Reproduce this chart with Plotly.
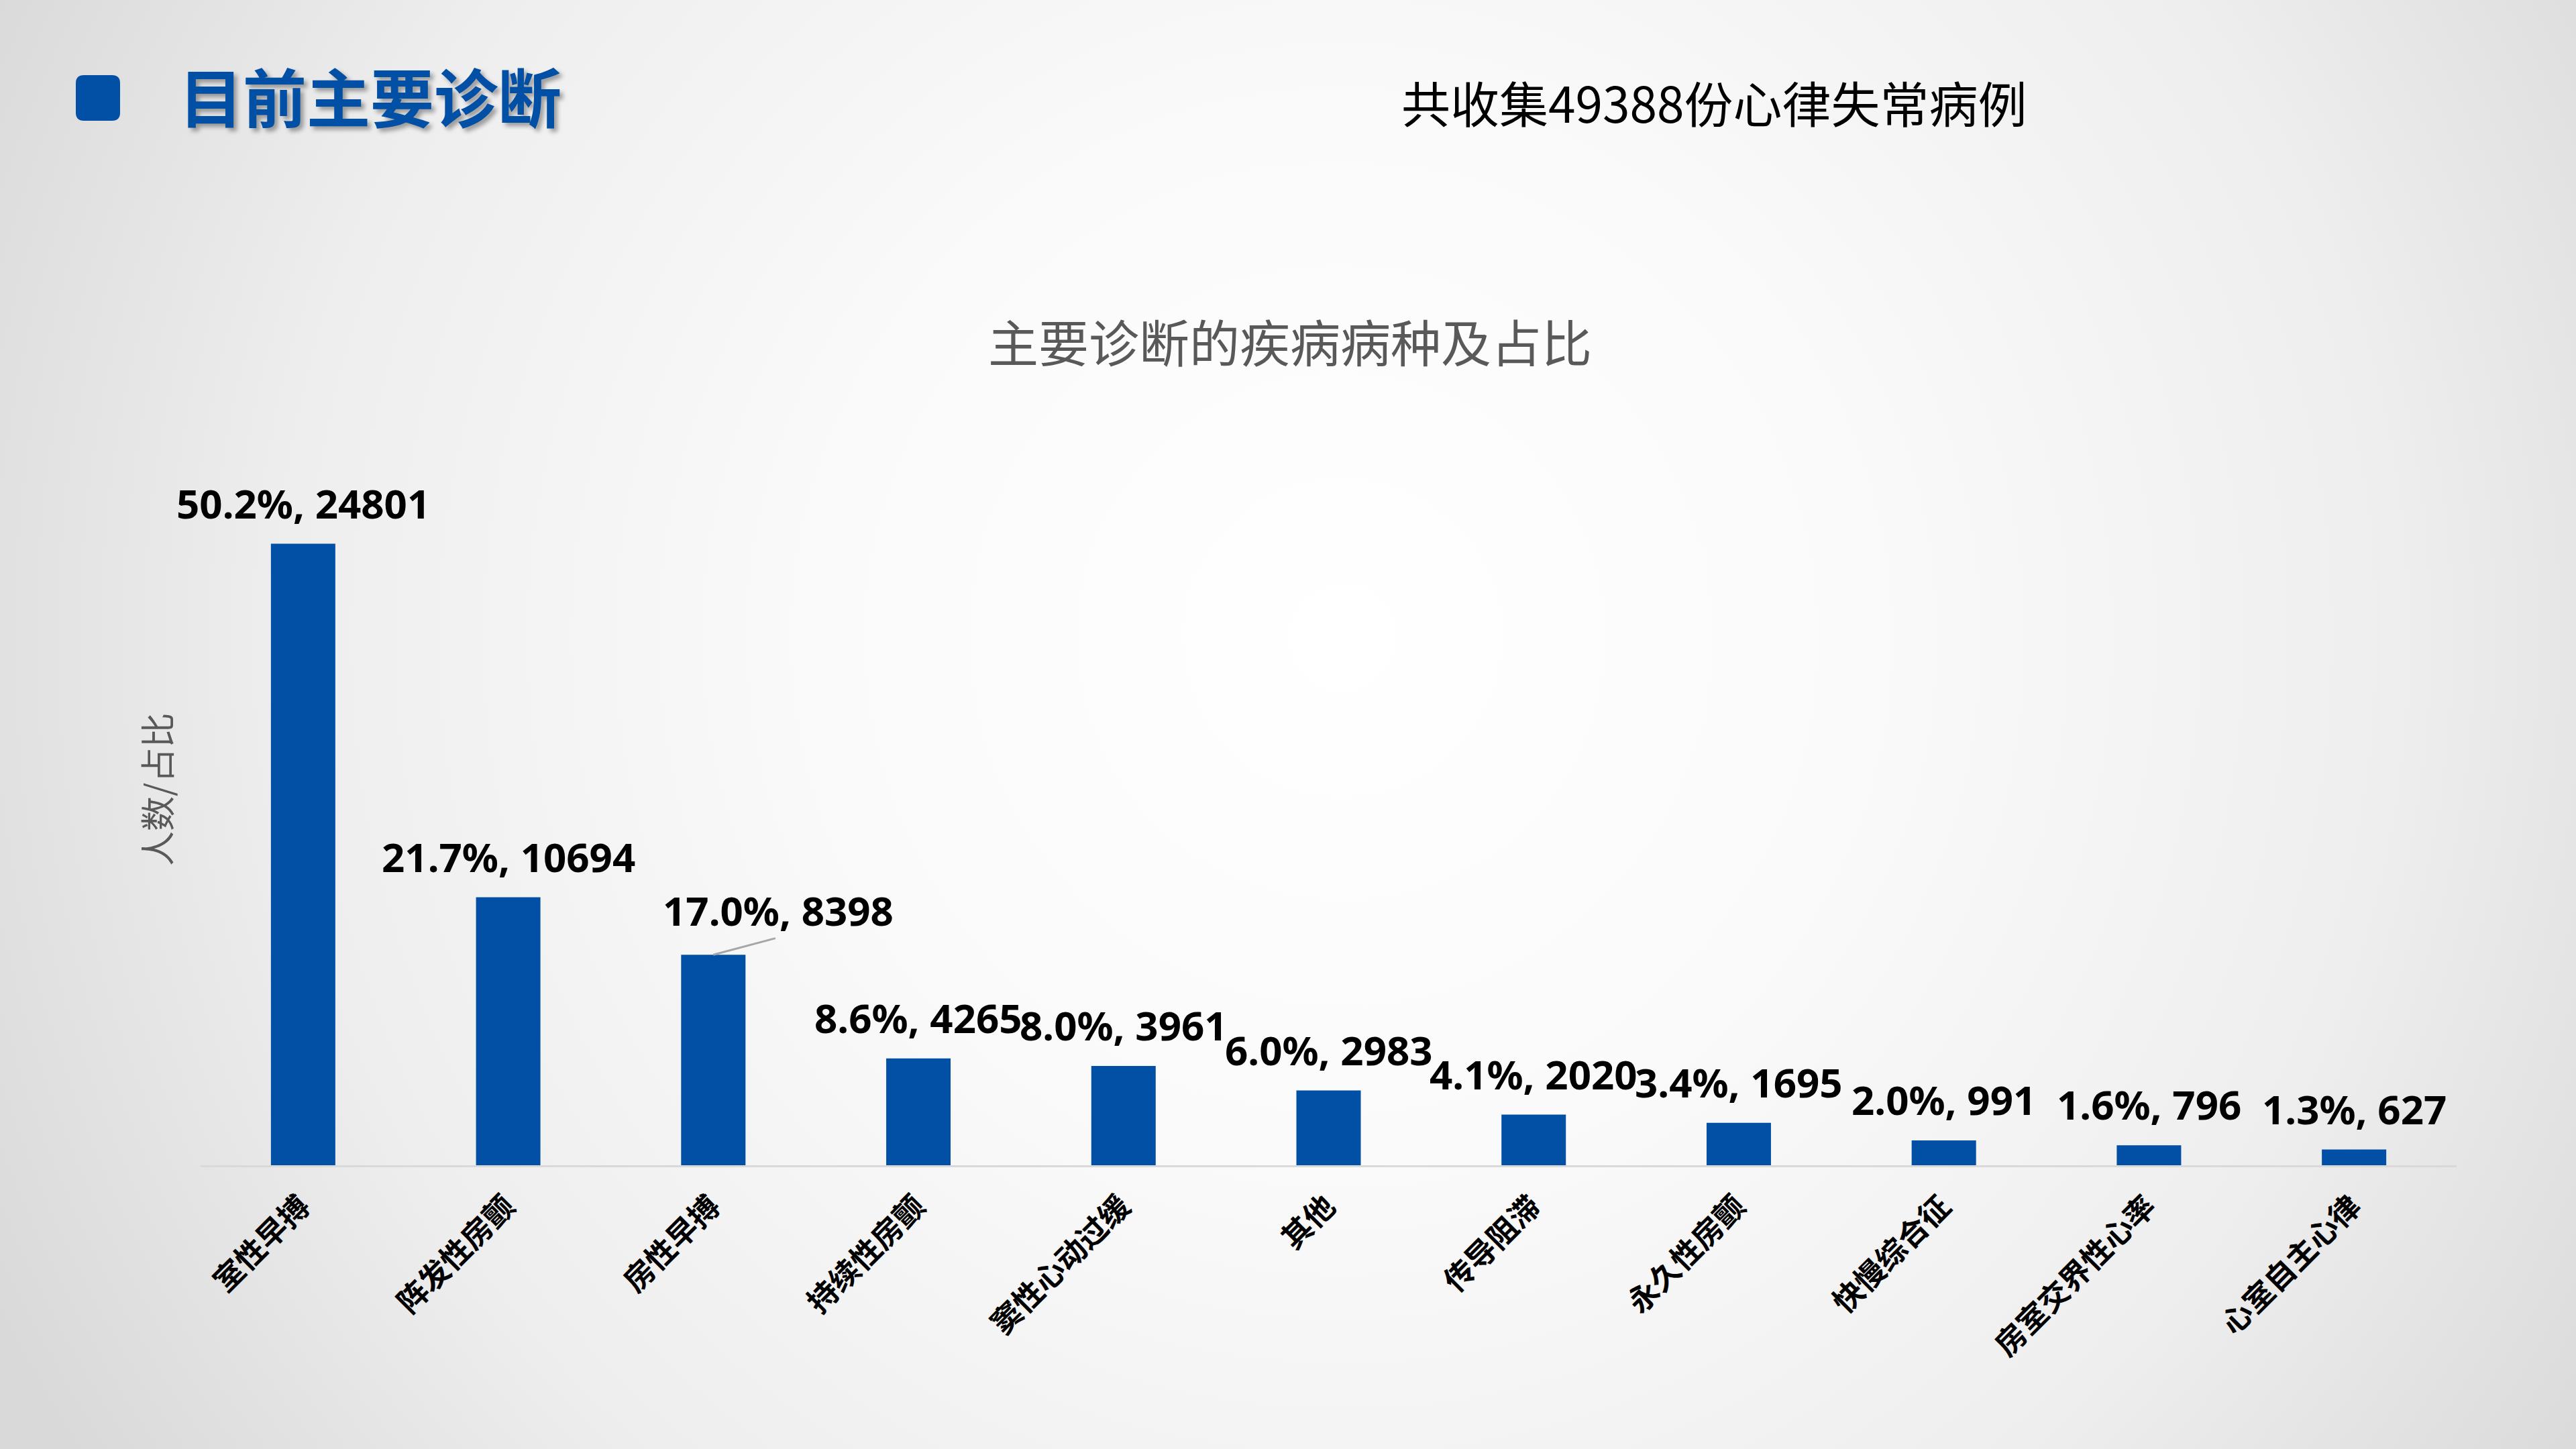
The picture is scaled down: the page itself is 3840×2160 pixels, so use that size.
import base64
import plotly.graph_objects as go

# data
categories = ["室性早搏", "阵发性房颤", "房性早搏", "持续性房颤", "窦性心动过缓", "其他",
              "传导阻滞", "永久性房颤", "快慢综合征", "房室交界性心率", "心室自主心律"]
counts = [24801, 10694, 8398, 4265, 3961, 2983, 2020, 1695, 991, 796, 627]
percents = [50.2, 21.7, 17.0, 8.6, 8.0, 6.0, 4.1, 3.4, 2.0, 1.6, 1.3]
total_cases = 49388

page_title = "目前主要诊断"
chart_title = "主要诊断的疾病病种及占比"
y_title = "人数/占比"

BLUE = "#0150A5"
GREY_TXT = "#595959"
CJK = "Noto Sans CJK SC"

W, H = 3840, 2160
L, R, T, B = 299, 178, 691, 423
PW, PH = W - L - R, H - T - B


def fx(px):
    return (px - L) / PW


def fy(py):
    return (H - B - py) / PH


# radial backdrop like the slide
svg = (
    '<svg xmlns="http://www.w3.org/2000/svg" width="3840" height="2160">'
    '<defs><radialGradient id="g" gradientUnits="userSpaceOnUse" cx="2000" cy="950" r="2250">'
    '<stop offset="0" stop-color="#ffffff"/>'
    '<stop offset="0.35" stop-color="#fafafa"/>'
    '<stop offset="0.7" stop-color="#eeeeee"/>'
    '<stop offset="1" stop-color="#d9d9d9"/>'
    '</radialGradient></defs>'
    '<rect width="3840" height="2160" fill="url(#g)"/></svg>'
)
bg_src = "data:image/svg+xml;base64," + base64.b64encode(svg.encode()).decode()

fig = go.Figure()
fig.add_trace(go.Bar(x=categories, y=counts, marker_color=BLUE, marker_line_width=0,
                     hoverinfo="x+y"))

annotations = []
for i, (cat, n, p) in enumerate(zip(categories, counts, percents)):
    label = "%.1f%%, %d" % (p, n)
    if i == 2:
        # this one sits off to the right with a leader line
        annotations.append(dict(x=cat, y=n, text="", showarrow=True, arrowhead=0,
                                arrowwidth=3, arrowcolor="#A6A6A6", ax=94, ay=-25))
        annotations.append(dict(x=cat, y=n, text=label, showarrow=False, xshift=97,
                                yshift=66, yanchor="middle",
                                font=dict(family="Noto Sans", size=60, color="black",
                                          weight="bold")))
    else:
        annotations.append(dict(x=cat, y=n, text=label, showarrow=False, yshift=61,
                                yanchor="middle",
                                font=dict(family="Noto Sans", size=60, color="black",
                                          weight="bold")))

annotations += [
    dict(x=fx(265), y=fy(141), xref="paper", yref="paper", text=page_title, showarrow=False,
         xanchor="left", yanchor="middle",
         font=dict(family=CJK, size=95, color=BLUE, weight="bold",
                   shadow="5px 5px 6px rgba(0,0,0,0.35)")),
    dict(x=fx(2087), y=fy(151), xref="paper", yref="paper",
         text="共收集%d份心律失常病例" % total_cases, showarrow=False,
         xanchor="left", yanchor="middle", font=dict(family=CJK, size=73, color="black")),
    dict(x=fx(1923), y=fy(507), xref="paper", yref="paper", text=chart_title, showarrow=False,
         xanchor="center", yanchor="middle", font=dict(family=CJK, size=75, color=GREY_TXT)),
    dict(x=fx(232), y=fy(1177), xref="paper", yref="paper", text=y_title, showarrow=False,
         textangle=-90, xanchor="center", yanchor="middle",
         font=dict(family=CJK, size=52, color=GREY_TXT)),
]

# rounded blue square beside the page title
x0, x1, y0, y1, r = 113, 179, 112, 180, 12
path = (
    f"M {fx(x0 + r)},{fy(y0)} L {fx(x1 - r)},{fy(y0)} Q {fx(x1)},{fy(y0)} {fx(x1)},{fy(y0 + r)} "
    f"L {fx(x1)},{fy(y1 - r)} Q {fx(x1)},{fy(y1)} {fx(x1 - r)},{fy(y1)} "
    f"L {fx(x0 + r)},{fy(y1)} Q {fx(x0)},{fy(y1)} {fx(x0)},{fy(y1 - r)} "
    f"L {fx(x0)},{fy(y0 + r)} Q {fx(x0)},{fy(y0)} {fx(x0 + r)},{fy(y0)} Z"
)

fig.update_layout(
    width=W, height=H,
    margin=dict(l=L, r=R, t=T, b=B, pad=0),
    paper_bgcolor="#efefef",
    plot_bgcolor="rgba(0,0,0,0)",
    font=dict(family=CJK, color="black"),
    bargap=0.686,
    showlegend=False,
    annotations=annotations,
    shapes=[dict(type="path", path=path, xref="paper", yref="paper",
                 fillcolor=BLUE, line_width=0)],
    images=[dict(source=bg_src, xref="paper", yref="paper", x=fx(0), y=fy(0),
                 sizex=W / PW, sizey=H / PH, xanchor="left", yanchor="top",
                 sizing="stretch", layer="below")],
)
fig.update_xaxes(
    tickangle=-45, tickfont=dict(family=CJK, size=45, color="black", weight="bold"),
    ticklabelstandoff=14, ticklabelshift=-3,
    showline=True, linecolor="#D9D9D9", linewidth=3, ticks="", showgrid=False,
    range=[-0.5, len(categories) - 0.5], fixedrange=True,
)
fig.update_yaxes(range=[0, 28000], visible=False, showgrid=False, zeroline=False,
                 fixedrange=True)

# drop the page's default body margin so the slide fills the window
fig.write_html("out.html", config={"displayModeBar": False},
               post_script="document.body.style.margin='0px';")
